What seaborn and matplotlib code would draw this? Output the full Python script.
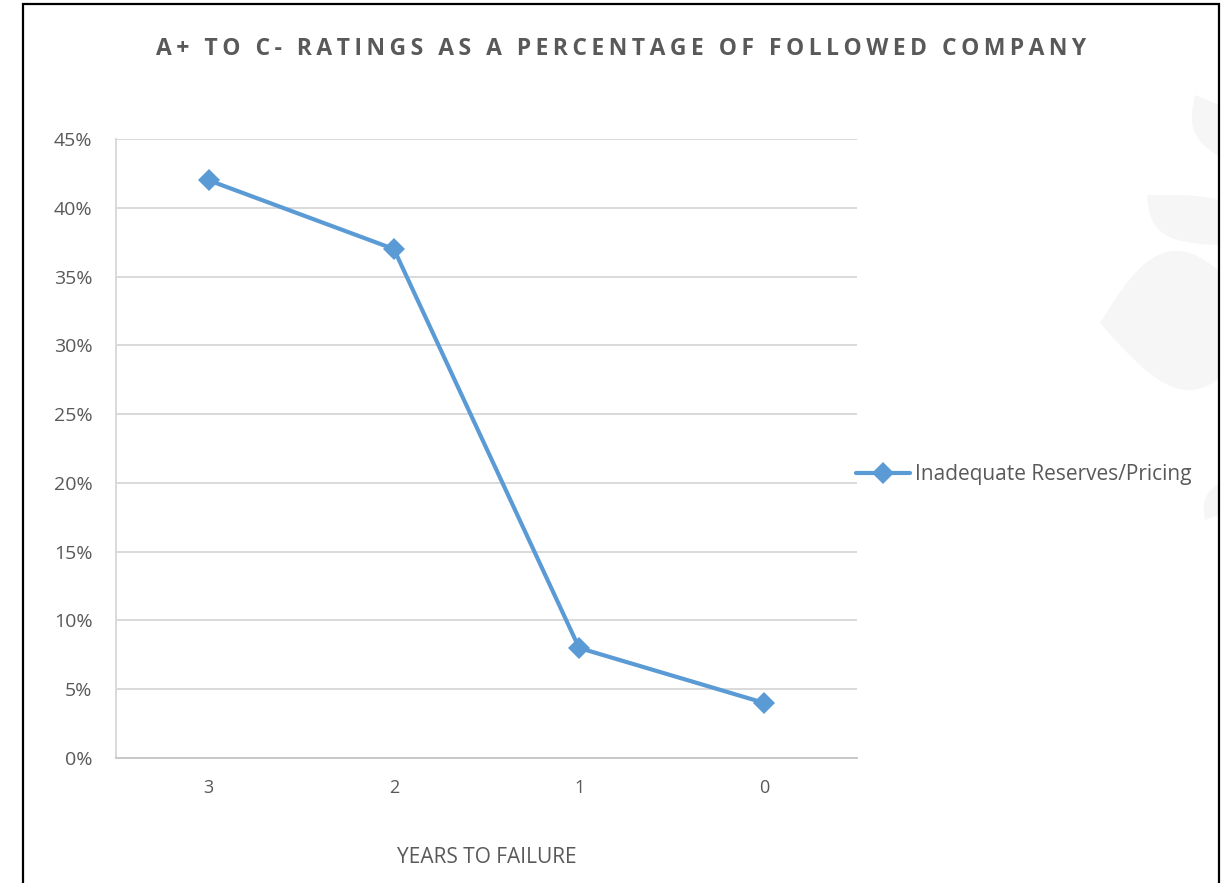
import numpy as np
import pandas as pd
import matplotlib
matplotlib.use("Agg")
import matplotlib.pyplot as plt
from matplotlib.patches import Rectangle, Polygon
from matplotlib.ticker import FuncFormatter
import seaborn as sns

# Chart data
years_to_failure = ["3", "2", "1", "0"]
pct_rated = [42, 37, 8, 4]
series_name = "Inadequate Reserves/Pricing"
y_ticks = [0, 5, 10, 15, 20, 25, 30, 35, 40, 45]

title_text = "A+ TO C- RATINGS AS A PERCENTAGE OF FOLLOWED COMPANY"
x_label = "YEARS TO FAILURE"

LINE_BLUE = "#5B9BD5"
TEXT_GRAY = "#595959"
GRID_GRAY = "#D9D9D9"

sns.set_theme(style="white")
plt.rcParams["font.family"] = ["Open Sans", "DejaVu Sans"]

W, H = 1225, 883
fig = plt.figure(figsize=(W / 100, H / 100), dpi=100)
fig.patch.set_facecolor("white")


def px(x, y):
    """Pixel position (top-left origin) to figure fraction."""
    return x / W, 1 - y / H


# Faint leaf watermark on the right edge
def leaf(p0, p1, bulge, n=60):
    p0 = np.array(px(*p0))
    p1 = np.array(px(*p1))
    d = p1 - p0
    nrm = np.array([-d[1] * W / H, d[0] * H / W])
    nrm = nrm / np.hypot(nrm[0] * W, nrm[1] * H)
    t = np.linspace(0, 1, n)
    base = p0[None, :] + t[:, None] * d[None, :]
    off = (np.sin(np.pi * t) * bulge)[:, None] * nrm[None, :]
    upper = base + off
    lower = (base - off)[::-1]
    return np.vstack([upper, lower])


border_clip = Rectangle(px(23, 1000), (1219 - 23) / W, (1000 - 4) / H,
                        transform=fig.transFigure, facecolor="none", edgecolor="none")
fig.add_artist(border_clip)
for p0, p1, b in [((1195, 95), (1260, 175), 28),
                  ((1147, 195), (1250, 245), 34),
                  ((1100, 323), (1265, 318), 70),
                  ((1205, 520), (1250, 470), 18)]:
    poly = Polygon(leaf(p0, p1, b), closed=True, transform=fig.transFigure,
                   facecolor="#F6F6F6", edgecolor="none", zorder=0)
    fig.add_artist(poly)
    poly.set_clip_path(border_clip)

# Outer frame
frame = Rectangle(px(23, 1000), (1219 - 23) / W, (1000 - 4) / H,
                  transform=fig.transFigure, facecolor="none",
                  edgecolor="black", linewidth=1.6, zorder=5)
fig.add_artist(frame)

# Plot area
x0, y0 = px(116, 758)
x1, y1 = px(857, 139)
ax = fig.add_axes([x0, y0, x1 - x0, y1 - y0])
ax.set_facecolor("none")

df = pd.DataFrame({"years": years_to_failure, "pct": pct_rated,
                   "series": series_name})
sns.lineplot(data=df, x="years", y="pct", hue="series", palette=[LINE_BLUE],
             marker="D", markersize=11, markeredgewidth=0, linewidth=3.0,
             sort=False, ax=ax, zorder=3)

ax.set_xlim(-0.5, len(years_to_failure) - 0.5)
ax.set_ylim(0, 45)
ax.set_yticks(y_ticks)
ax.yaxis.set_major_formatter(FuncFormatter(lambda v, _: f"{v:.0f}%"))
ax.grid(axis="y", color=GRID_GRAY, linewidth=1.4)
ax.grid(axis="x", visible=False)
ax.set_axisbelow(True)
for s in ["top", "right"]:
    ax.spines[s].set_visible(False)
ax.spines["left"].set_color(GRID_GRAY)
ax.spines["left"].set_linewidth(1.4)
ax.spines["bottom"].set_color("#C8C8C8")
ax.spines["bottom"].set_linewidth(1.4)
ax.tick_params(axis="y", length=0, pad=17, labelsize=14, labelcolor=TEXT_GRAY)
ax.tick_params(axis="x", length=0, pad=15, labelsize=13, labelcolor=TEXT_GRAY)
ax.set_ylabel("")
ax.set_xlabel(x_label, fontsize=15, color=TEXT_GRAY, labelpad=36)

# Legend to the right of the plot area
ax.legend(loc="center left", bbox_to_anchor=px(856, 475), bbox_transform=fig.transFigure,
          frameon=False, fontsize=15, labelcolor=TEXT_GRAY, handlelength=2.6,
          handletextpad=0.25, borderaxespad=0, borderpad=0)

# Letter-spaced bold title
spaced = "\u200a\u200a".join(title_text)
fig.text(px(621, 49)[0], px(621, 49)[1], spaced, ha="center", va="center",
         fontsize=16.5, fontweight="bold", color=TEXT_GRAY)

fig.savefig("out.png", dpi=100, facecolor="white")
